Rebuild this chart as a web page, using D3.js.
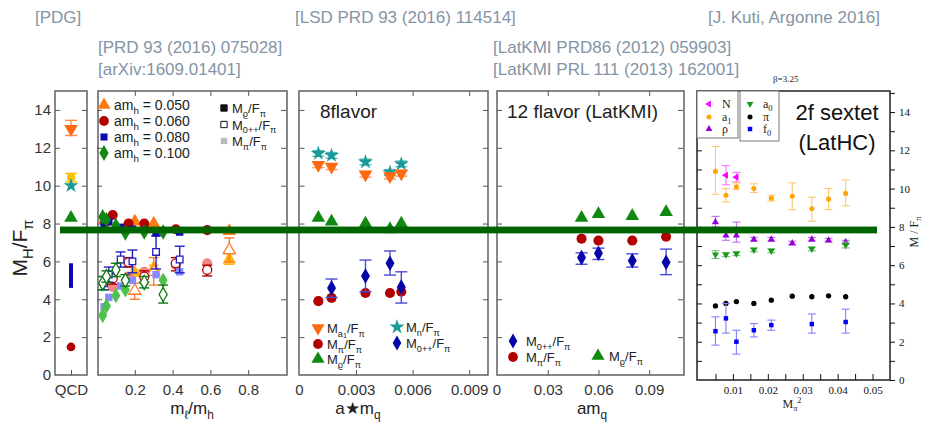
<!DOCTYPE html>
<html>
<head>
<meta charset="utf-8">
<script src="https://cdnjs.cloudflare.com/ajax/libs/d3/7.8.5/d3.min.js"></script>
<style>
body { margin: 0; background: #fff; }
svg { display: block; }
.axis path { display: none; }
.axis line { stroke: #555; stroke-width: 1; }
.axis text, .zero { font-family: "Liberation Sans", Arial, sans-serif; font-size: 15px; fill: #333; }
.ax5 text { font-family: "Liberation Serif", "Times New Roman", serif; font-size: 11px; fill: #111; }
.ax5 line { stroke: #111; }
</style>
</head>
<body>
<div id="chart"></div>
<script>
//---------------------------- DATA ----------------------------//
// QCD (PDG): value, low, high
const qcdA1 = [13.0, 12.65, 13.45];
const qcdGold = [10.45, 10.2, 10.65];
const qcdN = [10.0];
const qcdRho = [8.3];
const qcdSigma = [4.6, 5.9];
const qcdPi = [1.48];

// 4+8 flavours, x = m_l/m_h
const amhLabels = ["0.050", "0.060", "0.080", "0.100"];
const x050 = [0.04, 0.2, 0.3, 0.7];
const rho050 = [8.2, 8.1, 8.0, 7.6];
const xs050 = [0.2, 0.3, 0.7];
const pi050 = [5.4, 5.65, 6.1];
const pi050Lo = [5.25, 5.5, 5.85];
const pi050Hi = [5.55, 5.8, 6.4];
const zpp050 = [4.45, 5.45, 6.6];
const zpp050Lo = [4.0, 4.75, 5.97];
const zpp050Hi = [4.85, 6.2, 7.24];

const x060 = [0.05, 0.083, 0.167, 0.25, 0.417, 0.583];
const rho060 = [8.1, 8.45, 8.0, 8.0, 7.7, 7.65];
const xs060 = [0.083, 0.167, 0.25, 0.417, 0.583];
const pi060 = [4.65, 5.2, 5.45, 5.8, 5.9];
const zpp060 = [5.1, 5.95, 5.2, 5.9, 5.55];
const zpp060Lo = [4.8, 5.7, 4.9, 5.5, 5.23];
const zpp060Hi = [5.4, 6.2, 5.5, 6.2, 5.8];

const x080 = [0.0375, 0.0625, 0.125, 0.1875, 0.3125, 0.4375];
const rho080 = [7.9, 8.1, 7.8, 7.7, 7.5, 7.55];
const pi080 = [3.6, 4.1, 4.7, 5.0, 5.3, 5.45];
const zpp080 = [4.85, 5.3, 6.1, 6.0, 6.5, 6.1];
const zpp080Lo = [4.5, 4.9, 5.7, 5.4, 5.6, 5.4];
const zpp080Hi = [5.2, 5.7, 6.5, 6.6, 7.35, 6.8];

const x100 = [0.03, 0.05, 0.10, 0.15, 0.25, 0.35];
const rho100 = [8.35, 8.2, 7.9, 7.5, 7.55, 7.55];
const pi100 = [3.15, 3.65, 4.2, 4.5, 4.85, 5.0];
const zpp100 = [4.85, 5.2, 5.55, 5.0, 4.9, 4.25];
const zpp100Lo = [4.5, 4.9, 5.2, 4.7, 4.6, 3.8];
const zpp100Hi = [5.2, 5.5, 5.9, 5.3, 5.2, 4.75];

// 8 flavour, x = a m_q
const x8 = [0.001, 0.0017, 0.0035, 0.0048, 0.0054];
const n8 = [11.7, 11.6, 11.25, 10.7, 11.15];
const a18 = [11.1, 11.0, 10.6, 10.5, 10.65];
const rho8 = [8.3, 8.1, 8.0, 7.7, 8.0];
const pi8 = [3.9, 4.07, 4.33, 4.33, 4.4];
const xz8 = [0.0017, 0.0035, 0.0048, 0.0054];
const zpp8 = [4.6, 5.23, 5.9, 4.65];
const zpp8Lo = [4.1, 4.4, 5.28, 3.8];
const zpp8Hi = [5.07, 6.07, 6.55, 5.45];

// 12 flavour (LatKMI), x = a m_q
const x12 = [0.05, 0.06, 0.08, 0.10];
const rho12 = [8.3, 8.5, 8.4, 8.6];
const pi12 = [7.2, 7.1, 7.1, 7.3];
const zpp12 = [6.2, 6.43, 6.03, 5.95];
const zpp12Lo = [5.85, 6.1, 5.7, 5.3];
const zpp12Hi = [6.45, 6.7, 6.4, 6.65];

// 2f sextet (LatHC), x = M_pi^2
const mpi2 = [0.005, 0.008, 0.011, 0.016, 0.021, 0.027, 0.0326, 0.0374, 0.0423];
const xN = [0.008, 0.011];
const sN = [10.7, 10.6];
const sNLo = [10.2, 10.35];
const sNHi = [11.2, 10.85];
const sA1 = [10.9, 9.65, 10.1, 10.0, 9.5, 9.6, 8.95, 9.45, 9.75];
const sA1Lo = [9.7, 9.3, 9.95, 9.8, 9.35, 8.9, 8.3, 8.9, 9.1];
const sA1Hi = [12.2, 10.0, 10.3, 10.25, 9.65, 10.3, 9.55, 10.0, 10.45];
const sRho = [8.25, 7.55, 7.55, 7.35, 7.35, 7.15, 7.35, 7.3, 7.2];
const sRhoLo = [8.0, 7.3, 7.2, 7.25, 7.25, 7.05, 7.25, 7.2, 7.1];
const sRhoHi = [8.55, 7.8, 8.25, 7.45, 7.45, 7.25, 7.45, 7.4, 7.3];
const xA0 = [0.005, 0.008, 0.011, 0.016, 0.021, 0.0326, 0.0423];
const sA0 = [6.55, 6.55, 6.6, 6.8, 6.75, 6.85, 7.05];
const sA0Lo = [6.35, 6.45, 6.5, 6.7, 6.65, 6.75, 6.9];
const sA0Hi = [6.75, 6.65, 6.7, 6.9, 6.85, 6.95, 7.2];
const sPi = [3.87, 4.0, 4.1, 4.0, 4.17, 4.38, 4.35, 4.4, 4.35];
const xF0 = [0.005, 0.008, 0.011, 0.016, 0.021, 0.0326, 0.0423];
const sF0 = [2.55, 3.22, 2.0, 2.6, 2.87, 2.92, 3.03];
const sF0Lo = [1.82, 2.45, 1.35, 2.25, 2.6, 2.45, 2.45];
const sF0Hi = [3.3, 4.0, 2.6, 2.95, 3.13, 3.45, 3.7];

const band = [7.48, 7.84];

const yTicks = [0, 2, 4, 6, 8, 10, 12, 14];
const x2Ticks = [0.2, 0.4, 0.6, 0.8];
const x3Ticks = [0, 0.003, 0.006, 0.009];
const x4Ticks = [0, 0.03, 0.06, 0.09];
const x5Ticks = [0.01, 0.02, 0.03, 0.04, 0.05];

//---------------------------- SVG ------------------------------//
const width = 926, height = 422;
const FONT = '"Liberation Sans", Arial, sans-serif';
const SERIF = '"Liberation Serif", "Times New Roman", serif';
const svg = d3.select("#chart").append("svg")
    .attr("width", width).attr("height", height);

const yMain = d3.scaleLinear().domain([0, 15]).range([375, 91]);
const y5 = d3.scaleLinear().domain([0, 15.1]).range([380, 91]);
const x1 = d3.scaleLinear().domain([0, 1]).range([55, 87]);
const x2 = d3.scaleLinear().domain([0, 1]).range([97, 286]);
const x3 = d3.scaleLinear().domain([0, 0.01]).range([299.5, 488]);
const x4 = d3.scaleLinear().domain([0, 0.11]).range([497, 683]);
const x5 = d3.scaleLinear().domain([0, 0.055]).range([698, 890]);

//--------------------------- HELPERS ---------------------------//
function mark(g, type, x, y, size, fill, stroke, rot, sw) {
    g.append("path")
        .attr("d", d3.symbol().type(type).size(size)())
        .attr("transform", "translate(" + x + "," + y + ") rotate(" + (rot || 0) + ")")
        .attr("fill", fill)
        .attr("stroke", stroke || "none")
        .attr("stroke-width", sw || 1.2);
}

function errbar(g, x, ylo, yhi, color, cap, sw) {
    g.append("line").attr("x1", x).attr("x2", x).attr("y1", ylo).attr("y2", yhi)
        .attr("stroke", color).attr("stroke-width", sw || 1.4);
    [ylo, yhi].forEach(function(v) {
        g.append("line").attr("x1", x - cap).attr("x2", x + cap).attr("y1", v).attr("y2", v)
            .attr("stroke", color).attr("stroke-width", sw || 1.4);
    });
}

// parts: [text, level]; level 0 normal, 1 subscript, 2 sub-subscript, -1 superscript
function rich(g, x, y, parts, fs, opts) {
    opts = opts || {};
    const t = g.append("text").attr("x", x).attr("y", y)
        .attr("font-family", opts.family || FONT)
        .attr("font-size", fs)
        .attr("fill", opts.fill || "#222")
        .attr("text-anchor", opts.anchor || "start");
    if (opts.transform) t.attr("transform", opts.transform);
    let cur = 0;
    parts.forEach(function(p) {
        const lv = p[1];
        const shift = lv === 1 ? fs * 0.28 : lv === 2 ? fs * 0.42 : lv === -1 ? -fs * 0.4 : 0;
        const size = lv === 0 ? fs : lv === 2 ? fs * 0.55 : fs * 0.7;
        t.append("tspan").attr("dy", shift - cur).attr("font-size", size).text(p[0]);
        cur = shift;
    });
    return t;
}

function box(x0, x1r, y0, y1, color) {
    svg.append("rect").attr("x", x0).attr("y", y0)
        .attr("width", x1r - x0).attr("height", y1 - y0)
        .attr("fill", "none").attr("stroke", color || "#555").attr("stroke-width", 1.4);
}

//---------------------------- AXES -----------------------------//
function sideTicks(xs, labels) {
    svg.append("g").attr("class", "axis")
        .attr("transform", "translate(" + xs.range()[0] + ",0)")
        .call(d3.axisLeft(yMain).tickValues(yTicks.slice(1)).tickSize(-5).tickPadding(4)
            .tickFormat(labels ? d3.format("d") : ""));
    svg.append("g").attr("class", "axis")
        .attr("transform", "translate(" + xs.range()[1] + ",0)")
        .call(d3.axisRight(yMain).tickValues(yTicks.slice(1)).tickSize(-5).tickFormat(""));
}

function bottomTicks(xs, ticks) {
    svg.append("g").attr("class", "axis")
        .attr("transform", "translate(0,375)")
        .call(d3.axisBottom(xs).tickValues(ticks.filter(function(d) { return d > 0; }))
            .tickSize(-5).tickPadding(9)
            .tickFormat(function(d) { return String(+d.toFixed(3)); }));
    svg.append("g").attr("class", "axis")
        .attr("transform", "translate(0,91)")
        .call(d3.axisTop(xs).tickValues(ticks.filter(function(d) { return d > 0; })).tickSize(-5).tickFormat(""));
    if (ticks[0] === 0) {
        svg.append("text").attr("class", "zero").attr("x", xs(0)).attr("y", 395)
            .attr("text-anchor", "middle").text("0");
    }
}

// panel 1 (QCD)
sideTicks(x1, true);
svg.append("text").attr("class", "zero").attr("x", 51).attr("y", yMain(0) + 5)
    .attr("text-anchor", "end").text("0");
svg.append("g").attr("class", "axis").attr("transform", "translate(0,375)")
    .call(d3.axisBottom(x1).tickValues([0.5]).tickSize(-5).tickPadding(9).tickFormat(function() { return "QCD"; }));

sideTicks(x2, false); bottomTicks(x2, x2Ticks);
sideTicks(x3, false); bottomTicks(x3, x3Ticks);
sideTicks(x4, false); bottomTicks(x4, x4Ticks);

box(55, 87, 91, 375);
box(98, 287, 91, 375);
box(299, 488, 91, 375);
box(497, 684, 91, 375);

// panel 5 axes
const minorY = d3.range(0, 16, 1);
svg.append("g").attr("class", "axis ax5").attr("transform", "translate(697,0)")
    .call(d3.axisLeft(y5).tickValues(minorY.slice(1)).tickSize(-5).tickFormat(""));
svg.append("g").attr("class", "axis ax5").attr("transform", "translate(890,0)")
    .call(d3.axisRight(y5).tickValues(minorY).tickSize(5).tickPadding(4)
        .tickFormat(function(d) { return d % 2 === 0 && d <= 14 ? d : ""; }));
svg.append("g").attr("class", "axis ax5").attr("transform", "translate(0,380)")
    .call(d3.axisBottom(x5).tickValues(d3.range(1, 11).map(function(i) { return i * 0.005; }))
        .tickSize(-6).tickPadding(6)
        .tickFormat(function(d) { return x5Ticks.some(function(t) { return Math.abs(t - d) < 1e-9; }) ? d.toFixed(2) : ""; }));
box(697, 890, 91, 380, "#111");

//---------------------------- QCD ------------------------------//
const g1 = svg.append("g");
const xq = x1(0.5);
errbar(g1, xq, yMain(qcdA1[1]), yMain(qcdA1[2]), "#ff8a40", 6);
mark(g1, d3.symbolTriangle, xq, yMain(qcdA1[0]), 80, "#ff6a10", null, 180);
errbar(g1, xq, yMain(qcdGold[1]), yMain(qcdGold[2]), "#ffc000", 6);
mark(g1, d3.symbolSquare, xq, yMain(qcdGold[0]), 60, "#ffc000");
mark(g1, d3.symbolStar, xq, yMain(qcdN[0]), 70, "#1b9a9a");
mark(g1, d3.symbolTriangle, xq, yMain(qcdRho[0]), 80, "#118811");
g1.append("line").attr("x1", xq).attr("x2", xq)
    .attr("y1", yMain(qcdSigma[0])).attr("y2", yMain(qcdSigma[1]))
    .attr("stroke", "#0a0ab4").attr("stroke-width", 4);
mark(g1, d3.symbolCircle, xq, yMain(qcdPi[0]), 60, "#b00000");

//---------------------------- 4+8 ------------------------------//
const g2 = svg.append("g");
function series48(type, xs, rho, xsPi, pi, piLo, piHi, zpp, zLo, zHi, dark, open, light, size) {
    // M_pi (light)
    xsPi.forEach(function(x, i) {
        if (piLo) errbar(g2, x2(x), yMain(piLo[i]), yMain(piHi[i]), light, 5);
        mark(g2, type, x2(x), yMain(pi[i]), size, light);
    });
    // M_0++ (open)
    xsPi.forEach(function(x, i) {
        errbar(g2, x2(x), yMain(zLo[i]), yMain(zHi[i]), open, 5);
        mark(g2, type, x2(x), yMain(zpp[i]), size * 0.8, "#fff", open, 0, 1.3);
    });
    // M_rho (filled)
    xs.forEach(function(x, i) {
        mark(g2, type, x2(x), yMain(rho[i]), size, dark);
    });
}
series48(d3.symbolTriangle, x050, rho050, xs050, pi050, pi050Lo, pi050Hi, zpp050, zpp050Lo, zpp050Hi, "#ff7a10", "#ff7a30", "#ffb300", 80);
series48(d3.symbolCircle, x060, rho060, xs060, pi060, null, null, zpp060, zpp060Lo, zpp060Hi, "#b00000", "#b00000", "#f48585", 80);
series48(d3.symbolSquare, x080, rho080, x080, pi080, null, null, zpp080, zpp080Lo, zpp080Hi, "#0b0bb0", "#2020c0", "#8a8aff", 55);
series48(d3.symbolDiamond, x100, rho100, x100, pi100, null, null, zpp100, zpp100Lo, zpp100Hi, "#118811", "#117711", "#4cc24c", 70);

// legend
const legA = [[d3.symbolTriangle, "#ff7a10"], [d3.symbolCircle, "#b00000"], [d3.symbolSquare, "#0b0bb0"], [d3.symbolDiamond, "#118811"]];
amhLabels.forEach(function(lab, i) {
    const yy = 105 + i * 16;
    mark(svg, legA[i][0], 104, yy, i === 2 ? 50 : 75, legA[i][1]);
    rich(svg, 114, yy + 5, [["am", 0], ["h", 1], [" = " + lab, 0]], 14);
});
const legB = [["#111", "#111", [["M", 0], ["ϱ", 1], ["/F", 0], ["π", 1]]],
              ["#fff", "#111", [["M", 0], ["0++", 1], ["/F", 0], ["π", 1]]],
              ["#bbb", null, [["M", 0], ["π", 1], ["/F", 0], ["π", 1]]]];
legB.forEach(function(l, i) {
    const yy = 108 + i * 16.5;
    mark(svg, d3.symbolSquare, 224, yy, 40, l[0], l[1], 0, 1);
    rich(svg, 232, yy + 5, l[2], 13);
});

//---------------------------- 8 flavor -------------------------//
const g3 = svg.append("g");
x8.forEach(function(x, i) {
    errbar(g3, x3(x), yMain(n8[i] - 0.15), yMain(n8[i] + 0.15), "#5fb8b8", 6);
    mark(g3, d3.symbolStar, x3(x), yMain(n8[i]), 70, "#1b9a9a");
    errbar(g3, x3(x), yMain(a18[i] - 0.15), yMain(a18[i] + 0.15), "#ff9a60", 6);
    mark(g3, d3.symbolTriangle, x3(x), yMain(a18[i]), 80, "#ff6a10", null, 180);
    mark(g3, d3.symbolTriangle, x3(x), yMain(rho8[i]), 80, "#118811");
    mark(g3, d3.symbolCircle, x3(x), yMain(pi8[i]), 80, "#b00000");
});
xz8.forEach(function(x, i) {
    errbar(g3, x3(x), yMain(zpp8Lo[i]), yMain(zpp8Hi[i]), "#4a4ad8", 6);
    mark(g3, d3.symbolDiamond, x3(x), yMain(zpp8[i]), 70, "#0606a8");
});
svg.append("text").attr("x", 320).attr("y", 118).attr("font-family", FONT)
    .attr("font-size", 19).attr("fill", "#222").text("8flavor");
mark(svg, d3.symbolTriangle, 318, 328, 75, "#ff6a10", null, 180);
rich(svg, 327, 333, [["M", 0], ["a", 1], ["1", 2], ["/F", 0], ["π", 1]], 13);
mark(svg, d3.symbolCircle, 318, 344, 75, "#b00000");
rich(svg, 327, 349, [["M", 0], ["π", 1], ["/F", 0], ["π", 1]], 13);
mark(svg, d3.symbolTriangle, 318, 359, 75, "#118811");
rich(svg, 327, 364, [["M", 0], ["ϱ", 1], ["/F", 0], ["π", 1]], 13);
mark(svg, d3.symbolStar, 397, 327, 70, "#1b9a9a");
rich(svg, 406, 332, [["M", 0], ["n", 1], ["/F", 0], ["π", 1]], 13);
mark(svg, d3.symbolDiamond, 397, 343, 65, "#0606a8");
rich(svg, 406, 348, [["M", 0], ["0++", 1], ["/F", 0], ["π", 1]], 13);

//---------------------------- 12 flavor ------------------------//
const g4 = svg.append("g");
x12.forEach(function(x, i) {
    mark(g4, d3.symbolTriangle, x4(x), yMain(rho12[i]), 80, "#118811");
    mark(g4, d3.symbolCircle, x4(x), yMain(pi12[i]), 80, "#b00000");
    errbar(g4, x4(x), yMain(zpp12Lo[i]), yMain(zpp12Hi[i]), "#4a4ad8", 6);
    mark(g4, d3.symbolDiamond, x4(x), yMain(zpp12[i]), 70, "#0606a8");
});
svg.append("text").attr("x", 507).attr("y", 118).attr("font-family", FONT)
    .attr("font-size", 19).attr("fill", "#222").text("12 flavor (LatKMI)");
mark(svg, d3.symbolDiamond, 513, 341, 65, "#0606a8");
rich(svg, 526, 346, [["M", 0], ["0++", 1], ["/F", 0], ["π", 1]], 13);
mark(svg, d3.symbolCircle, 513, 357, 75, "#b00000");
rich(svg, 526, 362, [["M", 0], ["π", 1], ["/F", 0], ["π", 1]], 13);
mark(svg, d3.symbolTriangle, 598, 356, 75, "#118811");
rich(svg, 609, 361, [["M", 0], ["ϱ", 1], ["/F", 0], ["π", 1]], 13);

//---------------------------- 2f sextet ------------------------//
const g5 = svg.append("g");
xN.forEach(function(x, i) {
    errbar(g5, x5(x), y5(sNLo[i]), y5(sNHi[i]), "#ff70ff", 4, 1.1);
    mark(g5, d3.symbolTriangle, x5(x), y5(sN[i]), 22, "#ff00ff", null, -90);
});
mpi2.forEach(function(x, i) {
    errbar(g5, x5(x), y5(sA1Lo[i]), y5(sA1Hi[i]), "#ffc870", 4, 1.1);
    mark(g5, d3.symbolCircle, x5(x), y5(sA1[i]), 20, "#ffa500");
    errbar(g5, x5(x), y5(sRhoLo[i]), y5(sRhoHi[i]), "#c070e8", 4, 1.1);
    mark(g5, d3.symbolTriangle, x5(x), y5(sRho[i]), 22, "#9400d3");
    mark(g5, d3.symbolCircle, x5(x), y5(sPi[i]), 22, "#000");
});
xA0.forEach(function(x, i) {
    errbar(g5, x5(x), y5(sA0Lo[i]), y5(sA0Hi[i]), "#70c070", 4, 1.1);
    mark(g5, d3.symbolTriangle, x5(x), y5(sA0[i]), 22, "#1a9a1a", null, 180);
});
xF0.forEach(function(x, i) {
    errbar(g5, x5(x), y5(sF0Lo[i]), y5(sF0Hi[i]), "#8080ff", 4, 1.1);
    mark(g5, d3.symbolSquare, x5(x), y5(sF0[i]), 20, "#0000ff");
});

// legend boxes
svg.append("rect").attr("x", 697).attr("y", 91).attr("width", 41).attr("height", 47)
    .attr("fill", "#fff").attr("stroke", "#777").attr("stroke-width", 1);
svg.append("rect").attr("x", 740).attr("y", 91).attr("width", 39).attr("height", 50)
    .attr("fill", "#fff").attr("stroke", "#777").attr("stroke-width", 1);
const leg5 = [
    [709, 104, d3.symbolTriangle, -90, "#ff00ff", [["N", 0]]],
    [709, 117, d3.symbolCircle, 0, "#ffa500", [["a", 0], ["1", 1]]],
    [709, 129, d3.symbolTriangle, 0, "#9400d3", [["ρ", 0]]],
    [750, 104, d3.symbolTriangle, 180, "#1a9a1a", [["a", 0], ["0", 1]]],
    [750, 117, d3.symbolCircle, 0, "#000", [["π", 0]]],
    [750, 129, d3.symbolSquare, 0, "#0000ff", [["f", 0], ["0", 1]]]
];
leg5.forEach(function(l) {
    mark(svg, l[2], l[0], l[1], 20, l[4], null, l[3]);
    rich(svg, l[0] + 13, l[1] + 4, l[5], 12, { family: SERIF });
});
svg.append("text").attr("x", 837).attr("y", 120).attr("text-anchor", "middle")
    .attr("font-family", FONT).attr("font-size", 22).attr("fill", "#111").text("2f sextet");
svg.append("text").attr("x", 837).attr("y", 150).attr("text-anchor", "middle")
    .attr("font-family", FONT).attr("font-size", 22).attr("fill", "#111").text("(LatHC)");

//---------------------------- BAND -----------------------------//
svg.append("rect").attr("x", 60).attr("width", 877 - 60)
    .attr("y", yMain(band[1])).attr("height", yMain(band[0]) - yMain(band[1]))
    .attr("fill", "#006400");

//--------------------------- TITLES ----------------------------//
rich(svg, 27, 248, [["M", 0], ["H", 1], ["/F", 0], ["π", 1]], 21,
    { anchor: "middle", transform: "rotate(-90,27,248)" });
rich(svg, 192, 414, [["m", 0], ["ℓ", 1], ["/m", 0], ["h", 1]], 17, { anchor: "middle" });
rich(svg, 358, 414, [["a", 0], ["★", 0], ["m", 0], ["q", 1]], 17, { anchor: "middle" });
rich(svg, 592, 414, [["am", 0], ["q", 1]], 17, { anchor: "middle" });
rich(svg, 792, 408, [["M", 0], ["π", 1], ["2", -1]], 12, { anchor: "middle", family: SERIF });
rich(svg, 918, 232, [["M / F", 0], ["π", 1]], 12,
    { anchor: "middle", family: SERIF, transform: "rotate(-90,918,232)" });
svg.append("text").attr("x", 773).attr("y", 82).attr("font-family", SERIF)
    .attr("font-size", 9).attr("fill", "#222").text("β=3.25");

const refs = [
    [35, 23, "[PDG]"], [295, 23, "[LSD PRD 93 (2016) 114514]"], [708, 23, "[J. Kuti, Argonne 2016]"],
    [98, 53, "[PRD 93 (2016) 075028]"], [98, 75, "[arXiv:1609.01401]"],
    [493, 53, "[LatKMI PRD86 (2012) 059903]"], [493, 75, "[LatKMI PRL 111 (2013) 162001]"]
];
refs.forEach(function(r) {
    svg.append("text").attr("x", r[0]).attr("y", r[1])
        .attr("font-family", FONT).attr("font-size", 17).attr("fill", "#8494a6").text(r[2]);
});
</script>
</body>
</html>
